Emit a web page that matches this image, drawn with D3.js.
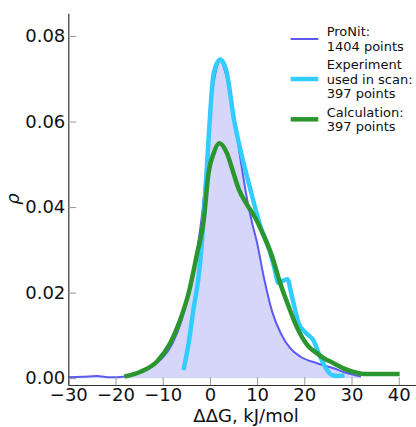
<!DOCTYPE html>
<html>
<head>
<meta charset="utf-8">
<script src="https://cdn.jsdelivr.net/npm/d3@7"></script>
<style>
  body { margin: 0; background: #fff; }
  svg { display: block; font-family: "DejaVu Sans", sans-serif; }
</style>
</head>
<body>
<div id="chart"></div>
<script>
// ProNit database density
const pronitX = [-30, -27, -24, -21, -18, -15, -12, -10, -8, -6, -4, -2.7, -1.5, -0.5, 0.3, 1.2, 2.2, 3.4, 5, 6.5, 7.9, 9, 10, 11.4, 13.2, 15, 17, 19.2, 22.7, 26.2, 29, 32];
const pronitRho = [0.0002, 0.0003, 0.0005, 0.0002, 0.0004, 0.0012, 0.003, 0.0048, 0.008, 0.0135, 0.0225, 0.030, 0.040, 0.053, 0.0645, 0.0715, 0.0742, 0.071, 0.062, 0.051, 0.0417, 0.036, 0.0316, 0.0237, 0.0155, 0.0105, 0.007, 0.005, 0.0035, 0.0023, 0.0012, 0.0004];

// experiment used in scan
const exptX = [-5.6, -4.5, -3.5, -2.4, -1.7, -1.2, -0.3, 0.8, 2.2, 3.6, 5.0, 6.8, 8.6, 10.5, 12.8, 13.6, 14.5, 15.5, 16.4, 17.4, 18.8, 20.4, 22, 23.2, 24.8, 25.9, 27, 28.5];
const exptRho = [0.0019, 0.0082, 0.016, 0.0237, 0.0316, 0.0393, 0.0557, 0.0713, 0.0745, 0.0713, 0.0611, 0.0518, 0.044, 0.0362, 0.0292, 0.026, 0.0223, 0.0228, 0.0231, 0.019, 0.0128, 0.0105, 0.0087, 0.0054, 0.0019, 0.0007, 0.0005, 0.0006];

// calculation
const calcX = [-18.1, -14.7, -11.2, -8.4, -6.3, -4.5, -2.7, -1.3, -0.3, 0.8, 2.0, 3.6, 5.0, 6.1, 7.9, 9.6, 11.2, 13.2, 14.9, 16.7, 17.7, 18.4, 20.6, 22.7, 24.1, 26.2, 28.3, 30, 32.6, 36, 40.2];
const calcRho = [0.0004, 0.0015, 0.0039, 0.0082, 0.0136, 0.0199, 0.0292, 0.037, 0.0479, 0.0526, 0.0549, 0.0526, 0.0479, 0.0442, 0.0405, 0.0375, 0.0338, 0.0284, 0.0222, 0.0167, 0.0138, 0.012, 0.0078, 0.0058, 0.0047, 0.0035, 0.0023, 0.0016, 0.001, 0.001, 0.001];

const xTicks = [-30, -20, -10, 0, 10, 20, 30, 40];
const yTicks = [0, 0.02, 0.04, 0.06, 0.08];
const legendNames = [["ProNit:", "1404 points"], ["Experiment", "used in scan:", "397 points"], ["Calculation:", "397 points"]];
const colors = ["#5b5bef", "#33ccff", "#2b952e"];
const widths = [2, 4.5, 4.5];

const width = 416, height = 427;
const svg = d3.select("#chart").append("svg").attr("width", width).attr("height", height);

const x = d3.scaleLinear().domain([-30, 44]).range([68.3, 417.6]);
const y = d3.scaleLinear().domain([-0.0016, 0.0853]).range([385, 13.3]);

const zip = (xs, ys) => xs.map((v, i) => [v, ys[i]]);
const series = [zip(pronitX, pronitRho), zip(exptX, exptRho), zip(calcX, calcRho)];

const line = d3.line().x(d => x(d[0])).y(d => y(d[1])).curve(d3.curveMonotoneX);
const area = d3.area().x(d => x(d[0])).y0(y(0)).y1(d => y(d[1])).curve(d3.curveMonotoneX);

svg.append("path").attr("d", area(series[0])).attr("fill", "#d6d6fa");

series.forEach((s, i) => {
  svg.append("path")
    .attr("d", line(s))
    .attr("fill", "none")
    .attr("stroke", colors[i])
    .attr("stroke-width", widths[i])
    .attr("stroke-linejoin", "round");
});

// axes: left and bottom spines, ticks inside
const fmt = d => (d < 0 ? "\u2212" + Math.abs(d) : d);
const xAxis = svg.append("g").attr("transform", `translate(0,${y.range()[0]})`)
  .call(d3.axisBottom(x).tickValues(xTicks).tickSizeInner(-8).tickSizeOuter(0).tickPadding(3).tickFormat(fmt));
const yAxis = svg.append("g").attr("transform", `translate(${x.range()[0]},0)`)
  .call(d3.axisLeft(y).tickValues(yTicks).tickSizeInner(-8).tickSizeOuter(0).tickPadding(3).tickFormat(d3.format(".2f")));

[xAxis, yAxis].forEach(g => {
  g.select(".domain").attr("stroke", "#333").attr("stroke-width", 1.2);
  g.selectAll(".tick line").attr("stroke", "#999");
  g.selectAll(".tick text").attr("font-size", 18).attr("fill", "#111").attr("font-family", "DejaVu Sans");
});

svg.append("text")
  .attr("x", 246).attr("y", 422)
  .attr("text-anchor", "middle").attr("font-size", 18).attr("fill", "#111")
  .text("\u0394\u0394G, kJ/mol");

svg.append("text")
  .attr("transform", "translate(19,199) rotate(-90)")
  .attr("text-anchor", "middle").attr("font-size", 18).attr("font-style", "italic").attr("fill", "#111")
  .text("\u03c1");

// legend
const legendY = [39, 79, 119.3];
const leg = svg.append("g");
legendNames.forEach((lines, i) => {
  leg.append("line")
    .attr("x1", 290.7).attr("x2", 318.3)
    .attr("y1", legendY[i]).attr("y2", legendY[i])
    .attr("stroke", colors[i]).attr("stroke-width", widths[i]);
  const t = leg.append("text").attr("font-size", 13).attr("fill", "#111");
  lines.forEach((s, j) => {
    t.append("tspan")
      .attr("x", 326.7)
      .attr("y", legendY[i] - (lines.length - 1) * 14.5 / 2 + 4.5 + j * 14.5)
      .text(s);
  });
});
</script>
</body>
</html>
